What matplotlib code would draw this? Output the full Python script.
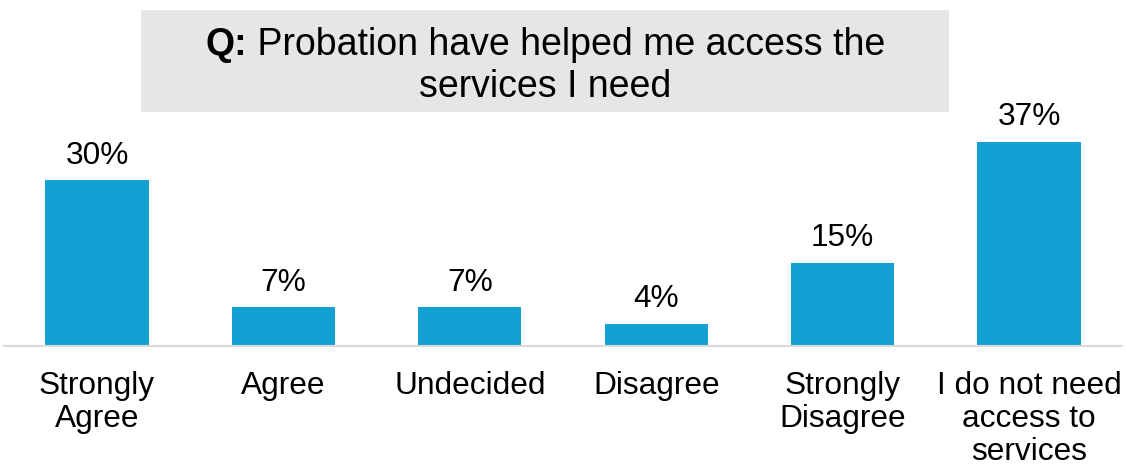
import matplotlib

matplotlib.use("Agg")

import matplotlib.pyplot as plt
from matplotlib.patches import Rectangle

categories = ["Strongly\nAgree", "Agree", "Undecided", "Disagree", "Strongly\nDisagree",
              "I do not need\naccess to\nservices"]
values = [30, 7, 7, 4, 15, 37]
title_bold = "Q:"
title_line1 = " Probation have helped me access the"
title_line2 = "services I need"

BAR_COLOR = "#15a0d4"
W, H = 1127, 469

plt.rcParams["font.family"] = ["Liberation Sans", "DejaVu Sans"]

fig = plt.figure(figsize=(W / 100, H / 100), dpi=100)
ax = fig.add_axes([3.8 / W, (H - 346) / H, 1118.4 / W, 220.8 / H])

x = list(range(len(values)))
bars = ax.bar(x, values, width=0.553, color=BAR_COLOR)
ax.set_xlim(-0.5, len(values) - 0.5)
ax.set_ylim(0, 40)

for rect, v in zip(bars, values):
    ax.annotate(f"{v}%", (rect.get_x() + rect.get_width() / 2, rect.get_height()),
                xytext=(0, 7), textcoords="offset points", ha="center", va="bottom",
                fontsize=22.8, color="#000000")

ax.set_xticks(x)
ax.set_xticklabels(categories, fontsize=22.8, linespacing=1.13)
ax.tick_params(axis="x", length=0, pad=18)
ax.set_yticks([])
for side in ["left", "right", "top"]:
    ax.spines[side].set_visible(False)
ax.spines["bottom"].set_color("#d9d9d9")
ax.spines["bottom"].set_linewidth(1.5)

# grey title box
fig.patches.append(Rectangle((141 / W, (H - 112) / H), 808 / W, 102 / H,
                             transform=fig.transFigure, facecolor="#e6e6e6",
                             edgecolor="none", zorder=0))

cx = 545 / W
fs = 27.0
t_bold = fig.text(0, (H - 55) / H, title_bold, fontsize=fs, fontweight="bold", va="baseline")
t_rest = fig.text(0, (H - 55) / H, title_line1, fontsize=fs, va="baseline")
fig.text(cx, (H - 97) / H, title_line2, fontsize=fs, va="baseline", ha="center")

renderer = fig.canvas.get_renderer()
wb = t_bold.get_window_extent(renderer).width
wr = t_rest.get_window_extent(renderer).width
start = cx * W - (wb + wr) / 2
t_bold.set_x(start / W)
t_rest.set_x((start + wb) / W)

fig.savefig("out.png", dpi=100)
